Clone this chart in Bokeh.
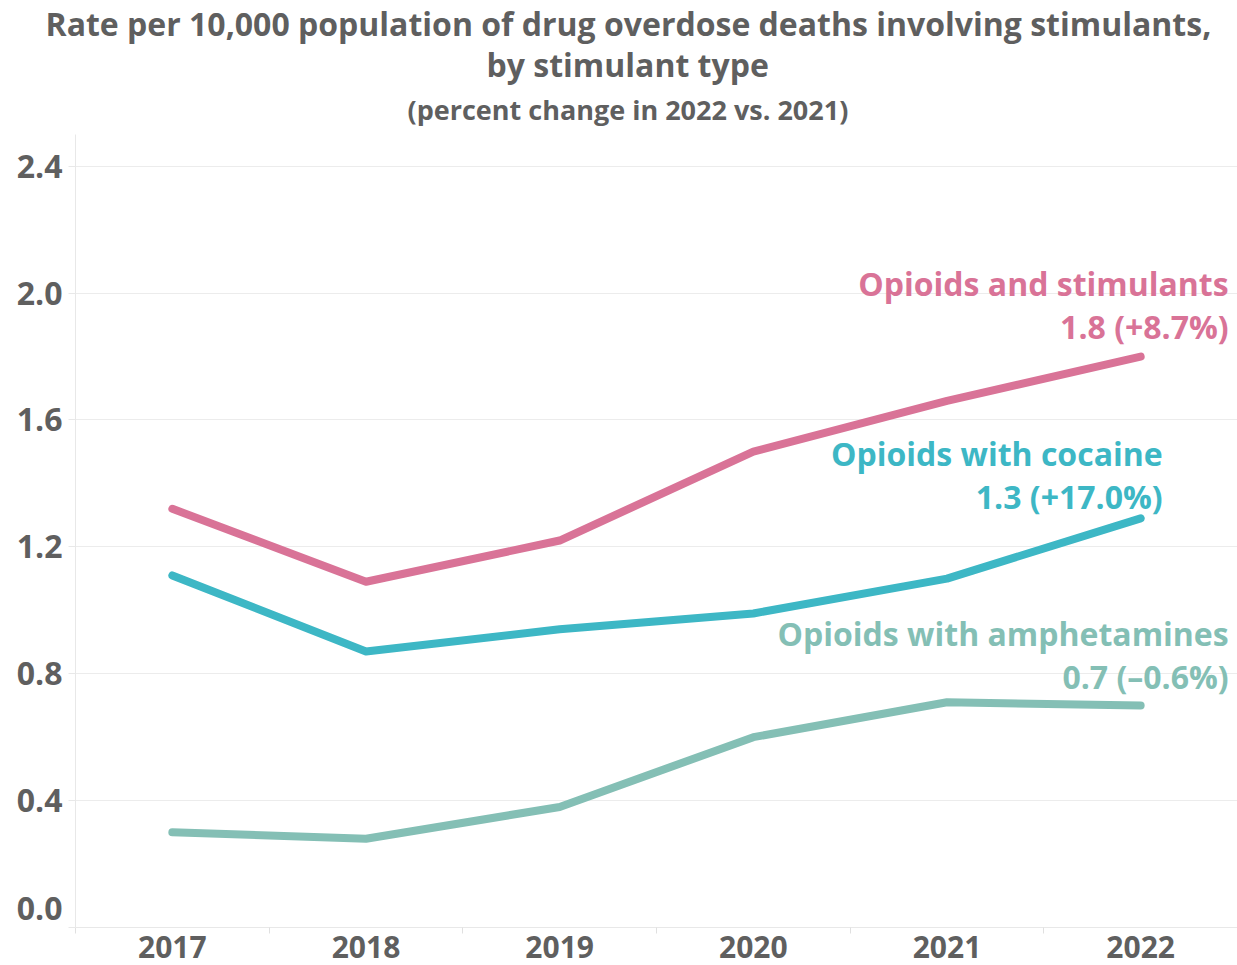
from bokeh.plotting import figure
from bokeh.models import Range1d, FixedTicker, LinearAxis, Label, Title, Grid, NumeralTickFormatter
from bokeh.embed import file_html
from bokeh.resources import INLINE

# ---- data ----
years = [2017, 2018, 2019, 2020, 2021, 2022]
opioids_stimulants = [1.32, 1.09, 1.22, 1.50, 1.66, 1.80]
opioids_cocaine = [1.11, 0.87, 0.94, 0.99, 1.10, 1.29]
opioids_amphetamines = [0.30, 0.28, 0.38, 0.60, 0.71, 0.70]
series_names = ["Opioids and stimulants", "Opioids with cocaine", "Opioids with amphetamines"]
pct_change = ["+8.7%", "+17.0%", "\u20130.6%"]
y_ticks = [0.0, 0.4, 0.8, 1.2, 1.6, 2.0, 2.4]
title_line1 = "Rate per 10,000 population of drug overdose deaths involving stimulants,"
title_line2 = "by stimulant type"
subtitle = "(percent change in 2022 vs. 2021)"

FONT = "Open Sans"
GRAY = "#5f5f5f"
colors = ["#d97397", "#3db7c5", "#84bfb5"]

p = figure(width=1237, height=965,
           x_range=Range1d(years[0] - 0.5, years[-1] + 0.5),
           y_range=Range1d(0, 2.5),
           output_backend="svg", toolbar_location=None,
           x_axis_type=None, y_axis_type=None,
           min_border_left=75, min_border_right=0, min_border_top=134, min_border_bottom=38)
p.outline_line_color = None
p.background_fill_color = "white"
p.border_fill_color = "white"
p.title.visible = False

# titles (added bottom-up); left-aligned with offsets so they sit centred on the whole figure
p.add_layout(Title(text=subtitle, align="left", offset=332, text_font=FONT, text_font_size="27px",
                   text_font_style="bold", text_color=GRAY, standoff=13), "above")
p.add_layout(Title(text=title_line2, align="left", offset=411, text_font=FONT, text_font_size="32px",
                   text_font_style="bold", text_color=GRAY, standoff=-6), "above")
p.add_layout(Title(text=title_line1, align="left", offset=-30, text_font=FONT, text_font_size="32px",
                   text_font_style="bold", text_color=GRAY, standoff=-3), "above")

# y axis: the "0.0" label sits a little above its gridline, so its label tick is nudged up;
# the visible tick marks are drawn as minor ticks exactly at the gridlines
zero_nudge = 0.06
label_ticks = [zero_nudge] + y_ticks[1:]
yaxis = LinearAxis(ticker=FixedTicker(ticks=label_ticks, minor_ticks=y_ticks),
                   formatter=NumeralTickFormatter(format="0.0"),
                   major_label_overrides={zero_nudge: "%.1f" % y_ticks[0]},
                   axis_line_color="#e8e8e8", minor_tick_line_color="#e8e8e8",
                   major_tick_out=0, major_tick_in=0, minor_tick_out=7, minor_tick_in=0,
                   major_label_standoff=6, major_label_text_font=FONT,
                   major_label_text_font_size="32px", major_label_text_font_style="bold",
                   major_label_text_color=GRAY)
p.add_layout(yaxis, "left")
p.add_layout(Grid(dimension=1, ticker=FixedTicker(ticks=y_ticks[1:]), grid_line_color="#ececec",
                  grid_line_width=1))

# x axis
xaxis = LinearAxis(ticker=FixedTicker(ticks=years, minor_ticks=[y - 0.5 for y in years] + [years[-1] + 0.5]),
                   axis_line_color="#e8e8e8", major_tick_out=0, major_tick_in=0,
                   minor_tick_out=6, minor_tick_in=0, minor_tick_line_color="#e0e0e0",
                   major_label_standoff=2, major_label_text_font=FONT,
                   major_label_text_font_size="30px", major_label_text_font_style="bold",
                   major_label_text_color=GRAY)
p.add_layout(xaxis, "below")

all_series = [opioids_stimulants, opioids_cocaine, opioids_amphetamines]
label_dx = [88, 22, 88]
label_dy_name = [73, 65, 72]
label_dy_value = [30, 22, 29]
for vals, col, name, pct, dx, dy1, dy2 in zip(all_series, colors, series_names, pct_change,
                                            label_dx, label_dy_name, label_dy_value):
    p.line(years, vals, line_width=8, line_color=col, line_cap="round", line_join="round")
    last = vals[-1]
    p.add_layout(Label(x=years[-1], y=last, x_offset=dx, y_offset=dy1, text=name,
                       text_align="right", text_baseline="alphabetic", text_font=FONT,
                       text_font_size="32px", text_font_style="bold", text_color=col))
    p.add_layout(Label(x=years[-1], y=last, x_offset=dx, y_offset=dy2, text="%.1f (%s)" % (last, pct),
                       text_align="right", text_baseline="alphabetic", text_font=FONT,
                       text_font_size="32px", text_font_style="bold", text_color=col))

open("out.html", "w").write(file_html(p, INLINE))
